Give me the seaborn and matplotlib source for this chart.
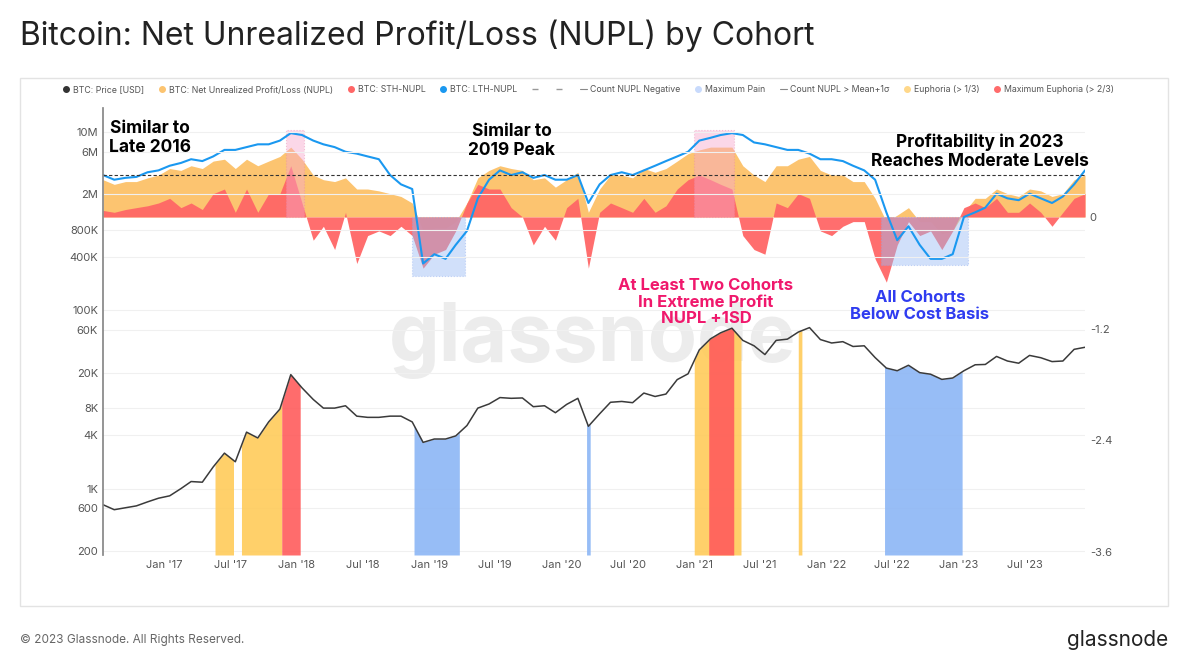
import numpy as np
import pandas as pd
import matplotlib
matplotlib.use("Agg")
import matplotlib.pyplot as plt
import matplotlib.dates as mdates
from matplotlib.lines import Line2D
from matplotlib.patches import Rectangle
import seaborn as sns

sns.set_theme(style="white")
plt.rcParams['font.family'] = ['Inter', 'DejaVu Sans']

months = pd.date_range('2016-07-01', periods=90, freq='MS') + pd.Timedelta(days=14)

price = [660, 580, 610, 640, 710, 780,
         830, 1000, 1200, 1180, 1750, 2500, 2000, 4300, 3700, 5600, 7800, 19000,
         13500, 10000, 8000, 8000, 8500, 6500, 6300, 6300, 6500, 6500, 5600, 3300,
         3600, 3600, 3900, 5100, 8000, 8900, 10500, 10300, 10400, 8300, 8500, 7100,
         8800, 10300, 5000, 6900, 9300, 9500, 9200, 11800, 10800, 11500, 16700, 19400,
         36000, 47900, 56000, 63000, 46000, 40000, 31900, 46000, 47500, 57000, 64000, 47000,
         43000, 44500, 39300, 40000, 29500, 22500, 21000, 24200, 20000, 19200, 16800, 17400,
         21000, 24500, 24700, 30400, 27000, 25500, 31200, 29400, 26600, 27000, 36500, 38500]

nupl = [0.40, 0.35, 0.38, 0.38, 0.42, 0.45,
        0.52, 0.50, 0.55, 0.52, 0.60, 0.62, 0.52, 0.62, 0.55, 0.60, 0.65, 0.75,
        0.62, 0.45, 0.40, 0.38, 0.42, 0.30, 0.30, 0.28, 0.25, 0.22, 0.15, -0.15,
        -0.12, -0.12, -0.05, 0.15, 0.42, 0.50, 0.55, 0.52, 0.50, 0.40, 0.42, 0.32,
        0.40, 0.48, 0.05, 0.30, 0.45, 0.45, 0.42, 0.52, 0.48, 0.52, 0.60, 0.68,
        0.72, 0.75, 0.75, 0.75, 0.55, 0.45, 0.38, 0.55, 0.55, 0.62, 0.65, 0.50,
        0.45, 0.45, 0.38, 0.38, 0.20, -0.05, 0.02, 0.10, -0.05, -0.05, -0.18, -0.15,
        0.05, 0.20, 0.20, 0.30, 0.25, 0.22, 0.30, 0.28, 0.22, 0.25, 0.40, 0.45]

sth_nupl = [0.07, 0.05, 0.08, 0.10, 0.12, 0.15,
            0.20, 0.10, 0.15, 0.08, 0.25, 0.30, 0.05, 0.30, 0.05, 0.25, 0.25, 0.55,
            0.15, -0.25, -0.10, -0.35, 0.05, -0.50, -0.20, -0.15, -0.20, -0.10, -0.20, -0.55,
            -0.40, -0.35, -0.15, 0.15, 0.35, 0.30, 0.30, 0.10, 0.00, -0.30, -0.10, -0.25,
            0.10, 0.20, -0.55, 0.05, 0.15, 0.10, 0.05, 0.20, 0.05, 0.12, 0.30, 0.40,
            0.45, 0.40, 0.35, 0.30, -0.20, -0.35, -0.40, 0.15, 0.10, 0.25, 0.20, -0.15,
            -0.20, -0.10, -0.05, -0.05, -0.45, -0.70, -0.30, -0.05, -0.20, -0.15, -0.35, -0.15,
            0.10, 0.15, 0.10, 0.20, 0.05, 0.05, 0.15, 0.05, -0.10, 0.05, 0.20, 0.25]

lth_nupl = [0.45, 0.40, 0.42, 0.43, 0.48, 0.50,
            0.55, 0.58, 0.62, 0.60, 0.65, 0.72, 0.72, 0.75, 0.78, 0.78, 0.82, 0.90,
            0.88, 0.82, 0.78, 0.75, 0.70, 0.68, 0.65, 0.62, 0.45, 0.35, 0.30, -0.50,
            -0.40, -0.45, -0.30, -0.15, 0.20, 0.40, 0.50, 0.45, 0.48, 0.42, 0.45, 0.40,
            0.40, 0.45, 0.15, 0.35, 0.45, 0.48, 0.45, 0.50, 0.55, 0.60, 0.65, 0.70,
            0.82, 0.85, 0.88, 0.90, 0.88, 0.80, 0.78, 0.75, 0.72, 0.72, 0.68, 0.62,
            0.62, 0.60, 0.55, 0.50, 0.40, 0.05, -0.25, -0.10, -0.30, -0.45, -0.45, -0.40,
            0.00, 0.05, 0.10, 0.25, 0.20, 0.18, 0.25, 0.20, 0.15, 0.22, 0.35, 0.50]

euphoria_periods = [('2017-05-20', '2017-07-10'), ('2017-08-01', '2017-11-20'),
                    ('2021-01-01', '2021-05-10'), ('2021-10-15', '2021-10-25')]
max_euphoria_periods = [('2017-11-20', '2018-01-10'), ('2021-02-10', '2021-04-20')]
pain_periods = [('2018-11-20', '2019-03-25'), ('2020-03-10', '2020-03-20'),
                ('2022-06-10', '2023-01-10')]
pink_boxes = [('2017-12-01', '2018-01-20'), ('2021-01-01', '2021-04-20')]
pain_boxes = [('2018-11-15', '2019-04-10', -0.63), ('2022-06-01', '2023-01-25', -0.52)]
ref_level = 0.45

price_ticks = [200, 600, 1e3, 4e3, 8e3, 2e4, 6e4, 1e5, 4e5, 8e5, 2e6, 6e6, 1e7]
price_labels = ['200', '600', '1K', '4K', '8K', '20K', '60K', '100K', '400K', '800K', '2M', '6M', '10M']
nupl_ticks = [0, -1.2, -2.4, -3.6]

ORANGE = '#fcc470'; RED = '#ff6666'; BLUE = '#1a98f0'
fig = plt.figure(figsize=(11.98, 6.68), dpi=100)
fig.patch.set_facecolor('white')
fig.add_artist(Rectangle((20/1198, 1-606/668), 1148/1198, 528/668, transform=fig.transFigure,
                         fill=False, edgecolor='#e3e3e3', lw=1))

# watermark
fig.text(0.495, 0.49, 'glassnode', fontsize=58, color='#ececec', ha='center', va='center',
         fontweight='bold', zorder=0)

ax = fig.add_axes([103/1198, 1-555/668, 982/1198, 447/668])
ax.patch.set_visible(False)
ax2 = ax.twinx()
ax.set_zorder(2); ax.patch.set_visible(False)
ax2.set_zorder(1); ax2.patch.set_visible(False)

ax.set_yscale('log')
ax.set_ylim(180, 1.86e7)
ax.set_xlim(pd.Timestamp('2016-07-15'), pd.Timestamp('2023-12-15'))
ax.set_yticks(price_ticks)
ax.set_yticklabels(price_labels)
ax.minorticks_off()
ax.yaxis.grid(True, color='#f0f0f0', lw=0.8)
ax.tick_params(axis='y', labelsize=8, colors='#555555', length=0)
ax.tick_params(axis='x', labelsize=8, colors='#555555', length=0)
ax.xaxis.set_major_locator(mdates.MonthLocator(bymonth=[1, 7]))
ax.xaxis.set_major_formatter(mdates.DateFormatter("%b '%y"))
for s in ['top', 'right', 'bottom']:
    ax.spines[s].set_visible(False)
ax.spines['left'].set_color('#888888')

ax2.set_ylim(-3.63, 1.17)
ax2.set_yticks(nupl_ticks)
ax2.set_yticklabels(['0', '-1.2', '-2.4', '-3.6'])
ax2.tick_params(axis='y', labelsize=8, colors='#555555', length=0)
for s in ax2.spines.values():
    s.set_visible(False)
ax2.fill_between(months, 0, nupl, color=ORANGE, lw=0)
ax2.fill_between(months, 0, sth_nupl, color=RED, alpha=0.95, lw=0)
sns.lineplot(x=months, y=lth_nupl, ax=ax2, color=BLUE, lw=1.5)
ax2.axhline(ref_level, color='#333333', ls=(0, (3, 2)), lw=0.8)
for a, b in pink_boxes:
    a, b = mdates.date2num(pd.Timestamp(a)), mdates.date2num(pd.Timestamp(b))
    ax2.add_patch(Rectangle((a, 0), b - a, 0.93, facecolor='#f7a8cc', alpha=0.45,
                            edgecolor='#e888b0', ls=':', lw=0.8))
for a, b, lo in pain_boxes:
    a, b = mdates.date2num(pd.Timestamp(a)), mdates.date2num(pd.Timestamp(b))
    ax2.add_patch(Rectangle((a, lo), b - a, -lo, facecolor='#9bbcf5', alpha=0.45,
                            edgecolor='#8aaaf0', ls=':', lw=0.8))

days = pd.date_range(months[0], months[-1], freq='D')
logp = np.interp(mdates.date2num(days), mdates.date2num(months), np.log10(price))
pday = 10 ** logp
def spans(periods, color):
    for a, b in periods:
        m = (days >= pd.Timestamp(a)) & (days <= pd.Timestamp(b))
        ax.fill_between(days, 180, pday, where=m, color=color, lw=0, alpha=0.9)
spans(euphoria_periods, '#ffcb5a')
spans(max_euphoria_periods, '#ff5c5c')
spans(pain_periods, '#8cb6f5')
sns.lineplot(x=months, y=price, ax=ax, color='#3a3a3a', lw=1.1)
ax.set_xlabel(''); ax.set_ylabel(''); ax2.set_ylabel('')

def ft(x, y, s, color='black', size=12.5):
    fig.text(x/1198, 1-y/668, s, ha='center', va='center', color=color, fontsize=size,
             fontweight='bold', linespacing=1.15, zorder=5)
ft(150, 138, 'Similar to\nLate 2016')
ft(512, 141, 'Similar to\n2019 Peak')
ft(980, 152, 'Profitability in 2023\nReaches Moderate Levels')
ft(706, 302, 'At Least Two Cohorts\nIn Extreme Profit\nNUPL +1SD', color='#f0186c', size=12)
ft(920, 306, 'All Cohorts\nBelow Cost Basis', color='#2f3cf0', size=12)

handles = [Line2D([], [], marker='o', ls='', color='#333333', ms=4),
           Line2D([], [], marker='o', ls='', color=ORANGE, ms=4),
           Line2D([], [], marker='o', ls='', color=RED, ms=4),
           Line2D([], [], marker='o', ls='', color=BLUE, ms=4),
           Line2D([], [], ls='', marker='_', color='#999999', ms=4),
           Line2D([], [], ls='', marker='_', color='#999999', ms=4),
           Line2D([], [], ls='-', color='#888888', lw=0.8),
           Line2D([], [], marker='o', ls='', color='#c8dafc', ms=4),
           Line2D([], [], ls='-', color='#888888', lw=0.8),
           Line2D([], [], marker='o', ls='', color='#ffd88a', ms=4),
           Line2D([], [], marker='o', ls='', color='#ff6b6b', ms=4)]
labels = ['BTC: Price [USD]', 'BTC: Net Unrealized Profit/Loss (NUPL)', 'BTC: STH-NUPL',
          'BTC: LTH-NUPL', '', '', 'Count NUPL Negative', 'Maximum Pain',
          'Count NUPL > Mean+1σ', 'Euphoria (> 1/3)', 'Maximum Euphoria (> 2/3)']
fig.legend(handles, labels, loc='center left', bbox_to_anchor=(55/1198, 1-90/668), ncol=11,
           frameon=False, fontsize=6.3, handlelength=0.8, handletextpad=0.4, columnspacing=1.6,
           labelcolor='#555555')

fig.text(20/1198, 1-36/668, 'Bitcoin: Net Unrealized Profit/Loss (NUPL) by Cohort', fontsize=23,
         color='#222222', va='center')
fig.text(20/1198, 1-640/668, '© 2023 Glassnode. All Rights Reserved.', fontsize=8.5,
         color='#666666', va='center')
fig.text(1168/1198, 1-640/668, 'glassnode', fontsize=15, color='#222222', va='center', ha='right')

fig.savefig('out.png', dpi=100, facecolor='white')
